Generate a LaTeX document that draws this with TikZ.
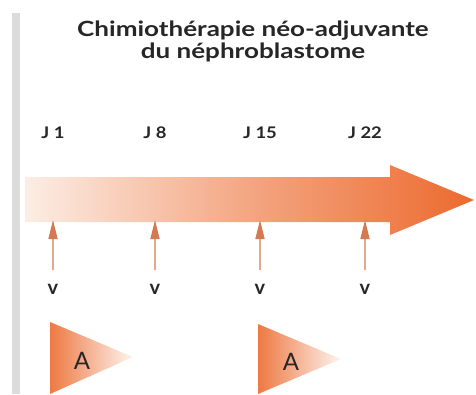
\documentclass[tikz,border=0pt]{standalone}
\usepackage{fontspec}
\setmainfont{Lato}
\usetikzlibrary{arrows.meta}

\definecolor{orfonce}{HTML}{EC6A2E}
\definecolor{orpale}{HTML}{FCEDE4}
\definecolor{orfleche}{HTML}{D47A52}
\definecolor{gristrait}{HTML}{DCDCDC}

\begin{document}
\begin{tikzpicture}
  [x=1pt,y=-1pt,every node/.style={inner sep=0pt,text=black!85}]
  \useasboundingbox (0,0) rectangle (476,394);
  \fill[gristrait] (12,13) rectangle (20,394);

  \node[font=\addfontfeature{FakeStretch=1.24}\bfseries\fontsize{21}{22}\selectfont,align=center] (titre) at (253,41)
    {Chimioth\'erapie n\'eo-adjuvante\\du n\'ephroblastome};

  % grande fleche
  \shade[left color=orpale,right color=orfonce,middle color=orfonce!60]
    (25,177) -- (390,177) -- (390,165) -- (474,200) -- (390,235) -- (390,222)
    -- (25,222) -- cycle;

  \foreach \x/\j/\n in {53/1/1,155/8/2,260/15/3,365/22/4}
  {
    \node[font=\addfontfeature{FakeStretch=1.15}\bfseries\fontsize{16}{16}\selectfont] (j\n) at (\x,133) {J \j};
    \node[font=\bfseries\fontsize{20}{20}\selectfont] (v\n) at (\x,289) {v};
    \coordinate (s\n) at (\x,270);
    \coordinate (e\n) at (\x,220);
  }

  \foreach \from/\to in {s1/e1,s2/e2,s3/e3,s4/e4}
    \draw[orfleche!65,line width=1.4pt,-{Triangle[width=9pt,length=19pt,color=orfleche]}]
      (\from) -- (\to);

  % cures A
  \shade[left color=orfonce!90,right color=orpale!60] (50,322) -- (133,357) -- (50,394) -- cycle;
  \shade[left color=orfonce!90,right color=orpale!60] (258,324) -- (341,359) -- (258,394) -- cycle;
  \node[font=\fontsize{24}{24}\selectfont] (a1) at (82,361) {A};
  \node[font=\fontsize{24}{24}\selectfont] (a2) at (291,362) {A};
\end{tikzpicture}
\end{document}
